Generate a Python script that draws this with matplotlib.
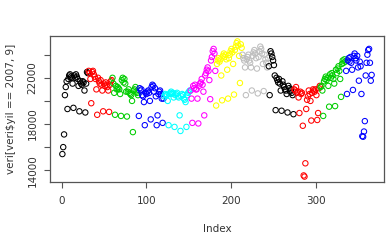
import numpy as np
import matplotlib
matplotlib.use("Agg")
from matplotlib import pyplot as plt

# daily values for 2007, one list per month
jan = [15400, 16000, 17100, 20500, 21200, 21700, 19300, 21900, 22200, 22300, 22100, 22000, 21500, 19400,
       22200, 22000, 22300, 22100, 21900, 21300, 19100, 21700, 21500, 21400, 21700, 21600, 20900, 19000,
       21500, 22500, 22400]
feb = [22600, 22400, 21900, 19800, 22500, 22600, 22300, 22100, 21900, 21000, 18800, 22000, 21700, 21500,
       21800, 21400, 20900, 19100, 21500, 21300, 21600, 21400, 21200, 20900, 19050, 21400, 21700, 21800]
mar = [22000, 21500, 20700, 18800, 21300, 21000, 21200, 21100, 21000, 20600, 18700, 21800, 22000, 21600,
       21900, 21500, 20800, 18650, 20800, 21000, 20700, 20600, 20500, 20000, 17300, 20900, 21000, 21200,
       20800, 20700, 20500]
apr = [18700, 21100, 20900, 21000, 20500, 20400, 19900, 17900, 20700, 20600, 20800, 20900, 20700, 20000,
       18400, 21200, 21400, 21300, 20800, 21100, 20400, 17900, 18750, 20600, 20800, 20900, 20600, 20200,
       18100, 20200]
may = [20400, 20600, 20500, 20500, 20000, 17900, 20600, 20700, 20800, 20600, 20700, 20300, 17750, 20500,
       20600, 20700, 20400, 20300, 18750, 17400, 20400, 20600, 20500, 20200, 20100, 19900, 17750, 20500,
       20700, 20800, 20900]
jun = [20900, 20200, 18100, 21300, 21100, 21400, 21000, 21000, 20200, 18050, 21300, 21500, 21600, 21900,
       21400, 20800, 18750, 22200, 22400, 22700, 22900, 22600, 21800, 20150, 23500, 23800, 24300, 24500,
       24100, 22600]
jul = [19600, 23200, 23500, 23700, 23400, 23600, 22200, 20050, 23900, 24100, 23800, 24000, 23600, 22700,
       20200, 23700, 24000, 24300, 24500, 24200, 23200, 20550, 24400, 24700, 25000, 25150, 24800, 23900,
       21550, 24900, 24600]
aug = [24000, 23700, 23500, 22900, 20500, 23600, 23800, 24000, 23500, 23300, 22900, 20900, 23900, 24200,
       24400, 24100, 23700, 22800, 20650, 23800, 24300, 24700, 24500, 24100, 23200, 20850, 24000, 23600,
       23300, 22900, 23700]
sep = [23000, 20500, 24300, 24100, 23800, 23500, 23100, 22200, 19200, 22000, 21800, 21600, 21900, 21500,
       20900, 19150, 21700, 21400, 21200, 21000, 20900, 20600, 19000, 21300, 21100, 20800, 21000, 20700,
       20500, 18850]
oct_ = [21000, 20900, 21200, 20700, 20800, 20300, 18950, 20800, 20600, 20700, 17850, 13550, 13450, 14600,
        19300, 20100, 20400, 20900, 20600, 20000, 18300, 20700, 21000, 20900, 20800, 21000, 20500, 18350,
        18950, 21100, 21300]
nov = [21200, 21300, 20900, 18700, 21700, 21900, 22100, 21800, 22000, 21300, 19500, 22300, 22000, 22400,
       22200, 21900, 21500, 19550, 22700, 22400, 22800, 23000, 22600, 21900, 20350, 23200, 23500, 23300,
       23600, 23400]
dec = [22600, 20600, 23500, 23700, 23400, 23800, 23300, 22700, 20950, 23900, 24100, 23700, 23500, 23900,
       22900, 21750, 23400, 23000, 20600, 16950, 16900, 17350, 18250, 22200, 23300, 24000, 24400, 24500,
       23300, 21750, 22250]

months = [jan, feb, mar, apr, may, jun, jul, aug, sep, oct_, nov, dec]
# R default palette, cycled by month
palette = ['black', '#FF0000', '#00CD00', '#0000FF', '#00FFFF', '#FF00FF', '#FFFF00', '#BEBEBE']

values = np.concatenate(months)
index = np.arange(1, len(values) + 1)
colors = []
for m, vals in enumerate(months):
    colors += [palette[m % len(palette)]] * len(vals)

fig = plt.figure(figsize=(3.92, 2.43), dpi=100)
ax = fig.add_axes([50 / 392, 1 - 182 / 243, 334 / 392, 146 / 243])

ax.scatter(index, values, s=15, facecolors='none', edgecolors=colors, linewidths=0.75)

# R style axis limits (4% padding)
xr = index.max() - index.min()
yr = values.max() - values.min()
ax.set_xlim(index.min() - 0.04 * xr, index.max() + 0.04 * xr)
ax.set_ylim(values.min() - 0.04 * yr, values.max() + 0.04 * yr)

txt = '#333333'
ax.set_xticks([0, 100, 200, 300])
ax.set_yticks([14000, 16000, 18000, 20000, 22000, 24000])
ax.set_yticklabels(['14000', '', '18000', '', '22000', ''], rotation=90, va='center')
ax.tick_params(direction='out', length=4, width=0.8, color='#555555', labelcolor=txt, labelsize=7.5)
ax.tick_params(axis='x', pad=6)
ax.tick_params(axis='y', pad=5)
for s in ax.spines.values():
    s.set_color('#555555')
    s.set_linewidth(0.9)

ax.set_xlabel('Index', fontsize=7.5, color=txt, labelpad=13)
ax.set_ylabel('veri[veri$yil == 2007, 9]', fontsize=7.5, color=txt, labelpad=8)

fig.savefig('out.png', dpi=100)
